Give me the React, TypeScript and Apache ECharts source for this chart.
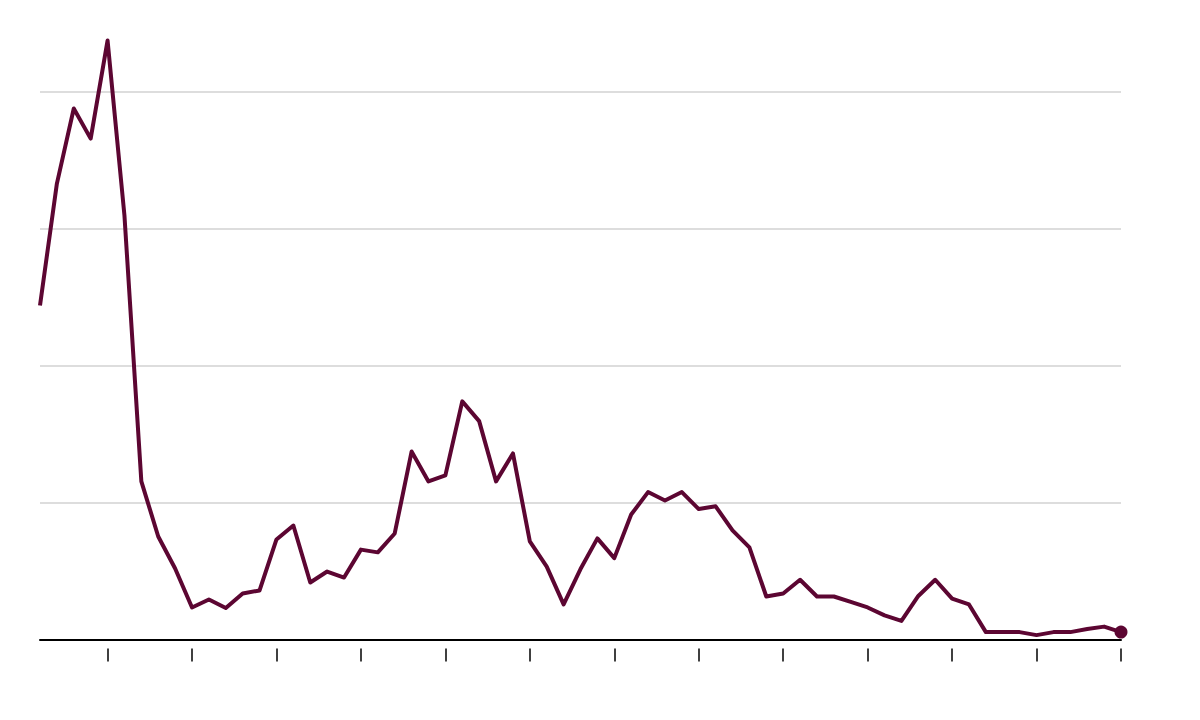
import React, { useEffect, useRef } from "react";
import * as echarts from "echarts";

const categories: string[] = Array.from({ length: 65 }, (_, i) => String(1958 + i));

const values: number[] = [
  12.19, 16.64, 19.38, 18.28, 21.86, 15.47, 5.77, 3.76, 2.59, 1.17,
  1.46, 1.15, 1.68, 1.79, 3.65, 4.16, 2.08, 2.48, 2.26, 3.28,
  3.18, 3.87, 6.86, 5.77, 5.99, 8.69, 7.97, 5.77, 6.79, 3.58,
  2.66, 1.28, 2.57, 3.69, 2.97, 4.56, 5.38, 5.07, 5.38, 4.76,
  4.86, 3.98, 3.36, 1.57, 1.68, 2.18, 1.57, 1.57, 1.37, 1.17,
  0.88, 0.68, 1.59, 2.18, 1.49, 1.28, 0.27, 0.27, 0.27, 0.16,
  0.27, 0.27, 0.38, 0.47, 0.27,
];

const yTicks: number[] = [0, 5, 10, 15, 20];

export default function App() {
  const ref = useRef<HTMLDivElement>(null);

  useEffect(() => {
    if (!ref.current) return;
    const chart = echarts.init(ref.current, null, { renderer: "svg" });
    const lastIdx = values.length - 1;
    const tickInterval = (index: number) => index % 5 === 4;
    chart.setOption({
      animation: false,
      backgroundColor: "#ffffff",
      grid: { left: 40, right: 79, top: 91.5, bottom: 80.5, containLabel: false },
      xAxis: [
        {
          type: "category",
          data: categories,
          boundaryGap: false,
          axisLine: { show: true, lineStyle: { color: "#000000", width: 2 } },
          axisTick: { show: false },
          axisLabel: { show: false },
          splitLine: { show: false },
        },
        {
          type: "category",
          data: categories,
          boundaryGap: false,
          position: "bottom",
          offset: 9,
          axisLine: { show: false },
          axisTick: {
            show: true,
            interval: tickInterval,
            length: 13,
            lineStyle: { color: "#000000", width: 1.5 },
          },
          axisLabel: { show: false },
          splitLine: { show: false },
        },
      ],
      yAxis: {
        type: "value",
        min: yTicks[0],
        max: yTicks[yTicks.length - 1],
        interval: 5,
        axisLine: { show: false },
        axisTick: { show: false },
        axisLabel: { show: false },
        splitLine: { show: true, lineStyle: { color: "#dddddd", width: 2 } },
      },
      series: [
        {
          type: "line",
          data: values,
          xAxisIndex: 0,
          clip: false,
          symbol: "none",
          lineStyle: { color: "#5c0632", width: 4, join: "round" },
          z: 3,
        },
        {
          type: "scatter",
          xAxisIndex: 0,
          clip: false,
          data: [[categories[lastIdx], values[lastIdx]]],
          symbol: "circle",
          symbolSize: 13,
          itemStyle: { color: "#5c0632", opacity: 1 },
          z: 4,
        },
      ],
    });
    return () => chart.dispose();
  }, []);

  return <div ref={ref} style={{ width: 1200, height: 720, position: "absolute", left: 0, top: 0 }} />;
}
